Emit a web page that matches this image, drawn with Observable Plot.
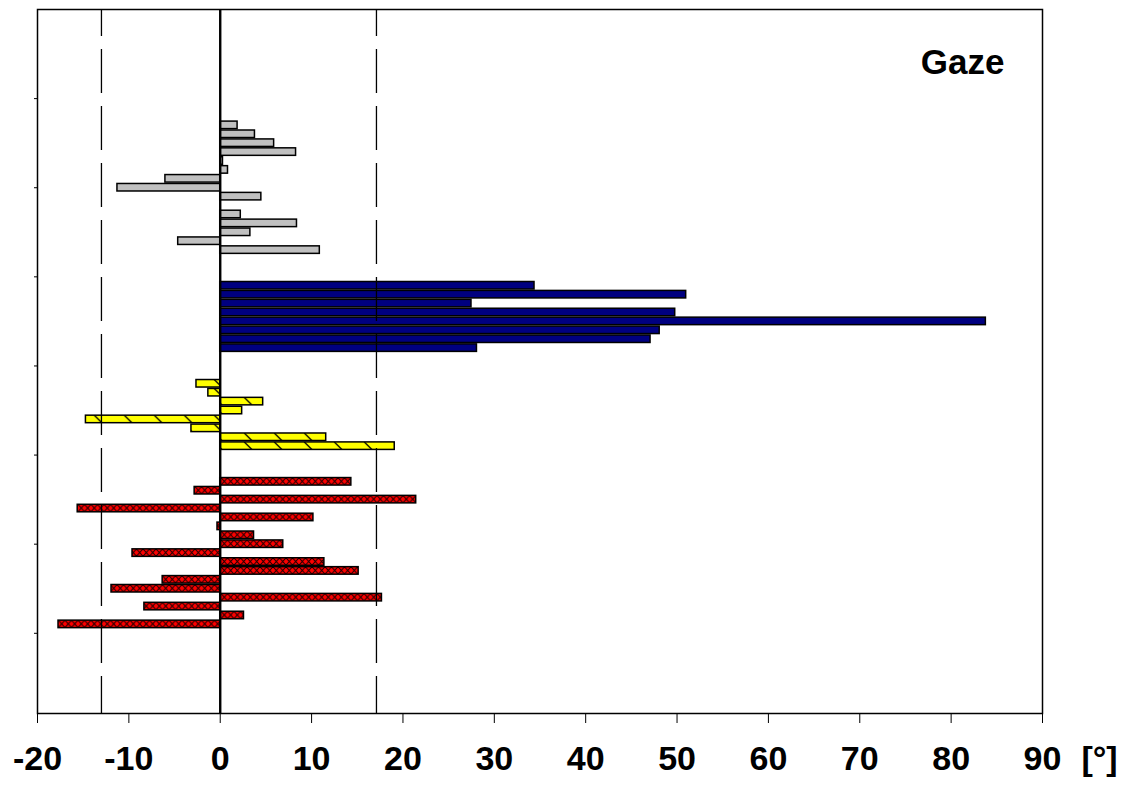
<!DOCTYPE html>
<html><head><meta charset="utf-8">
<script src="https://cdn.jsdelivr.net/npm/d3@7"></script>
<script src="https://cdn.jsdelivr.net/npm/@observablehq/plot@0.6"></script>
<style>body{margin:0;background:#fff} svg{display:block}</style>
</head><body><div id="chart"></div>
<script>
// ---- data (degrees) ----
const grayValues   = [1.9, 3.8, 5.9, 8.3, 0.3, 0.85, -6.0, -11.25, 4.5, 0, 2.25, 8.4, 3.3, -4.6, 10.9];
const blueValues   = [34.4, 51.0, 27.5, 49.8, 83.8, 48.1, 47.1, 28.1];
const yellowValues = [-2.6, -1.3, 4.7, 2.4, -14.7, -3.15, 11.6, 19.1];
const redValues    = [14.35, -2.8, 21.45, -15.6, 10.2, -0.3, 3.7, 6.9, -9.6, 11.4, 15.15, -6.3, -11.9, 17.7, -8.3, 2.6, -17.7];
const limitLines   = [-13, 17.1];
const xTicks       = [-20, -10, 0, 10, 20, 30, 40, 50, 60, 70, 80, 90];
const yTicks       = [10, 20, 30, 40, 50, 60, 70];
const title        = "Gaze";
const unitLabel    = "[°]";

// category layout (slot indices on the vertical category axis)
const slotCount = 79, firstSlot = 13, groupGap = 3;
const groups = [
  {name: "gray",   values: grayValues},
  {name: "blue",   values: blueValues},
  {name: "yellow", values: yellowValues},
  {name: "red",    values: redValues}
];
const fills = {gray: "#c0c0c0", blue: "#000080", yellow: "url(#hatchY)", red: "url(#hatchR)"};

const rows = [];
let slot = firstSlot;
for (const g of groups) {
  for (const v of g.values) rows.push({group: g.name, slot: slot++, value: v});
  slot += groupGap;
}

const font = "'Liberation Sans', Arial, Helvetica, sans-serif";

const plot = Plot.plot({
  width: 1126,
  height: 785,
  marginLeft: 37,
  marginRight: 84,
  marginTop: 9,
  marginBottom: 72,
  style: {fontFamily: font, fontWeight: "bold", color: "#000", background: "#fff"},
  x: {domain: [-20, 90]},
  y: {domain: [0, slotCount], reverse: true},
  marks: [
    Plot.rectX(rows, {
      x1: 0, x2: "value",
      y1: d => d.slot - 0.5, y2: d => d.slot + 0.5,
      insetTop: 0.7, insetBottom: 0.7,
      fill: d => fills[d.group],
      stroke: "#000", strokeWidth: 1.5
    }),
    Plot.ruleX(limitLines, {stroke: "#000", strokeWidth: 1.3, strokeDasharray: "44,13", strokeDashoffset: 17}),
    Plot.ruleX([0], {stroke: "#000", strokeWidth: 2.4}),
    Plot.frame({stroke: "#000", strokeWidth: 1.5}),
    Plot.axisX(xTicks, {tickSize: 10, tickPadding: 22, fontSize: 34, fontWeight: "bold", tickFormat: d => String(d), label: null}),
    Plot.axisY(yTicks, {tickSize: 3, tickFormat: () => "", label: null}),
    Plot.text([unitLabel], {text: d => d, frameAnchor: "bottom-right", dx: 57, dy: 32, lineAnchor: "top", textAnchor: "middle", fontSize: 34, fontWeight: "bold"}),
    Plot.text([title], {text: d => d, frameAnchor: "top-right", dx: -38, dy: 40, lineAnchor: "top", textAnchor: "end", fontSize: 35, fontWeight: "bold"})
  ]
});

// hatch patterns aligned to the category slots via the y scale
const ys = plot.scale("y");
const unit = Math.abs(ys.apply(1) - ys.apply(0));
const y0 = ys.apply(0.5);
const ns = "http://www.w3.org/2000/svg";
const defs = document.createElementNS(ns, "defs");
defs.innerHTML = `
<pattern id="hatchY" patternUnits="userSpaceOnUse" x="0" y="${y0}" width="30" height="${unit}">
  <rect width="30" height="${unit}" fill="#ffff00"/>
  <line x1="4" y1="0.5" x2="12" y2="${unit - 0.5}" stroke="#000" stroke-width="1.3"/>
</pattern>
<pattern id="hatchR" patternUnits="userSpaceOnUse" x="0" y="${y0}" width="6.5" height="${unit}">
  <rect width="6.5" height="${unit}" fill="#ff0000"/>
  <line x1="0" y1="0.7" x2="6.5" y2="${unit - 0.7}" stroke="#000" stroke-width="1"/>
  <line x1="0" y1="${unit - 0.7}" x2="6.5" y2="0.7" stroke="#000" stroke-width="1"/>
</pattern>`;
plot.insertBefore(defs, plot.firstChild);

document.getElementById("chart").appendChild(plot);
</script>
</body></html>
